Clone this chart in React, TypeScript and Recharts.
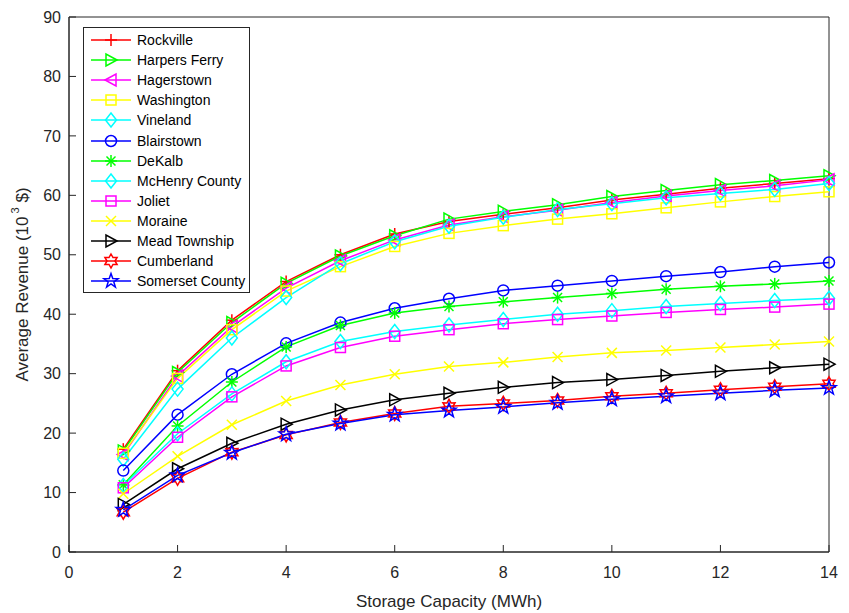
import * as React from "react";
import { LineChart, Line, XAxis, YAxis, Legend, ReferenceArea } from "recharts";

const font = "'Liberation Sans', Arial, Helvetica, sans-serif";
const axisColor = "#262626";

// storage capacity (MWh)
const capacity = [1, 2, 3, 4, 5, 6, 7, 8, 9, 10, 11, 12, 13, 14];

// average revenue, 10^3 $
const rockville = [17.3, 30.5, 39.0, 45.5, 50.0, 53.5, 55.6, 56.8, 57.9, 59.2, 60.2, 61.2, 62.0, 62.8];
const harpersFerry = [17.0, 30.2, 38.6, 45.2, 49.8, 53.2, 56.0, 57.3, 58.4, 59.8, 60.8, 61.8, 62.5, 63.3];
const hagerstown = [16.4, 29.6, 37.9, 44.4, 49.0, 52.5, 55.0, 56.4, 57.5, 58.8, 59.9, 60.8, 61.6, 62.6];
const washington = [16.6, 29.2, 37.4, 43.9, 48.0, 51.4, 53.6, 54.9, 56.0, 56.9, 57.9, 58.9, 59.8, 60.6];
const vineland = [15.6, 27.4, 36.0, 42.8, 48.5, 52.2, 54.8, 56.3, 57.6, 58.6, 59.6, 60.3, 61.0, 62.0];
const blairstown = [13.7, 23.1, 29.9, 35.1, 38.6, 41.0, 42.6, 44.0, 44.8, 45.6, 46.4, 47.1, 48.0, 48.7];
const deKalb = [11.3, 21.2, 28.6, 34.5, 38.1, 40.2, 41.3, 42.1, 42.8, 43.5, 44.2, 44.7, 45.1, 45.6];
const mcHenry = [11.2, 19.9, 26.6, 32.0, 35.4, 37.1, 38.2, 39.1, 40.0, 40.6, 41.3, 41.8, 42.3, 42.7];
const joliet = [10.8, 19.3, 26.1, 31.3, 34.4, 36.3, 37.4, 38.4, 39.1, 39.7, 40.3, 40.8, 41.2, 41.7];
const moraine = [9.8, 16.1, 21.4, 25.4, 28.1, 29.9, 31.2, 31.9, 32.8, 33.5, 33.9, 34.4, 34.9, 35.4];
const meadTownship = [8.0, 14.0, 18.3, 21.5, 23.9, 25.6, 26.7, 27.7, 28.5, 29.0, 29.7, 30.4, 31.0, 31.6];
const cumberland = [6.7, 12.4, 16.8, 19.7, 21.8, 23.3, 24.5, 25.0, 25.5, 26.2, 26.7, 27.3, 27.8, 28.3];
const somerset = [7.1, 12.9, 16.7, 19.8, 21.6, 23.1, 23.8, 24.4, 25.1, 25.7, 26.2, 26.7, 27.2, 27.6];

const xTicks = [0, 2, 4, 6, 8, 10, 12, 14];
const yTicks = [0, 10, 20, 30, 40, 50, 60, 70, 80, 90];

type Shape = "plus" | "triRight" | "triLeft" | "square" | "diamond" | "circle" | "asterisk" | "cross" | "hexagram" | "pentagram";

class SeriesDef {
    name: string;
    color: string;
    shape: Shape;
    values: number[];
}

const series: SeriesDef[] = [
    { name: "Rockville", color: "#ff0000", shape: "plus", values: rockville },
    { name: "Harpers Ferry", color: "#00ff00", shape: "triRight", values: harpersFerry },
    { name: "Hagerstown", color: "#ff00ff", shape: "triLeft", values: hagerstown },
    { name: "Washington", color: "#ffff00", shape: "square", values: washington },
    { name: "Vineland", color: "#00ffff", shape: "diamond", values: vineland },
    { name: "Blairstown", color: "#0000ff", shape: "circle", values: blairstown },
    { name: "DeKalb", color: "#00ff00", shape: "asterisk", values: deKalb },
    { name: "McHenry County", color: "#00ffff", shape: "diamond", values: mcHenry },
    { name: "Joliet", color: "#ff00ff", shape: "square", values: joliet },
    { name: "Moraine", color: "#ffff00", shape: "cross", values: moraine },
    { name: "Mead Township", color: "#000000", shape: "triRight", values: meadTownship },
    { name: "Cumberland", color: "#ff0000", shape: "hexagram", values: cumberland },
    { name: "Somerset County", color: "#0000ff", shape: "pentagram", values: somerset },
];

const data = capacity.map((c, i) => {
    const row: any = { capacity: c };
    series.forEach(s => { row[s.name] = s.values[i]; });
    return row;
});

const starPoints = (cx: number, cy: number, n: number, rOut: number, rIn: number) => {
    const pts: string[] = [];
    for (let k = 0; k < n * 2; k++) {
        const r = k % 2 === 0 ? rOut : rIn;
        const a = -Math.PI / 2 + (k * Math.PI) / n;
        pts.push(`${cx + r * Math.cos(a)},${cy + r * Math.sin(a)}`);
    }
    return pts.join(" ");
};

const Marker = (props: { cx: number; cy: number; shape: Shape; color: string }) => {
    const { cx, cy, shape, color } = props;
    const p = { fill: "none", stroke: color, strokeWidth: 1.5 };
    switch (shape) {
        case "plus":
            return <g {...p}><line x1={cx - 6} y1={cy} x2={cx + 6} y2={cy} /><line x1={cx} y1={cy - 6} x2={cx} y2={cy + 6} /></g>;
        case "triRight":
            return <polygon {...p} points={`${cx + 6},${cy} ${cx - 5},${cy - 6} ${cx - 5},${cy + 6}`} />;
        case "triLeft":
            return <polygon {...p} points={`${cx - 6},${cy} ${cx + 5},${cy - 6} ${cx + 5},${cy + 6}`} />;
        case "square":
            return <rect {...p} x={cx - 5} y={cy - 5} width={10} height={10} />;
        case "diamond":
            return <polygon {...p} points={`${cx},${cy - 7} ${cx + 5.5},${cy} ${cx},${cy + 7} ${cx - 5.5},${cy}`} />;
        case "circle":
            return <circle {...p} cx={cx} cy={cy} r={5.5} />;
        case "asterisk":
            return <g {...p}>
                <line x1={cx - 6} y1={cy} x2={cx + 6} y2={cy} />
                <line x1={cx} y1={cy - 6} x2={cx} y2={cy + 6} />
                <line x1={cx - 4.5} y1={cy - 4.5} x2={cx + 4.5} y2={cy + 4.5} />
                <line x1={cx - 4.5} y1={cy + 4.5} x2={cx + 4.5} y2={cy - 4.5} />
            </g>;
        case "cross":
            return <g {...p}><line x1={cx - 5} y1={cy - 5} x2={cx + 5} y2={cy + 5} /><line x1={cx - 5} y1={cy + 5} x2={cx + 5} y2={cy - 5} /></g>;
        case "hexagram":
            return <polygon {...p} points={starPoints(cx, cy, 6, 7, 4)} />;
        case "pentagram":
            return <polygon {...p} points={starPoints(cx, cy, 5, 7.5, 3)} />;
    }
    return null;
};

const LegendBox = () => (
    <div style={{
        boxSizing: "border-box", width: 167, border: "1px solid #262626", background: "#fff",
        padding: "2px 4px 1px 6px", fontFamily: font, fontSize: 14, color: "#000",
    }}>
        {series.map(s => (
            <div key={s.name} style={{ display: "flex", alignItems: "center", height: 20.1 }}>
                <svg width={42} height={20} style={{ flex: "none" }}>
                    <line x1={1} y1={10} x2={41} y2={10} stroke={s.color} strokeWidth={1.5} />
                    <Marker cx={21} cy={10} shape={s.shape} color={s.color} />
                </svg>
                <span style={{ marginLeft: 5, whiteSpace: "nowrap" }}>{s.name}</span>
            </div>
        ))}
    </div>
);

const YLabel = (props: any) => {
    const vb = props.viewBox;
    const x = vb.x + 13;
    const y = vb.y + vb.height / 2;
    return <text x={x} y={y} transform={`rotate(-90, ${x}, ${y})`} textAnchor="middle" dominantBaseline="central"
        fontFamily={font} fontSize={17} fill={axisColor}>
        Average Revenue (10<tspan fontSize={11} dy={-7}> 3</tspan><tspan fontSize={17} dy={7}> $)</tspan>
    </text>;
};

const XLabel = (props: any) => {
    const vb = props.viewBox;
    return <text x={vb.x + vb.width / 2} y={vb.y + 49} textAnchor="middle" dominantBaseline="central"
        fontFamily={font} fontSize={17} fill={axisColor}>Storage Capacity (MWh)</text>;
};

const tickStyle = { fill: axisColor, fontSize: 16, fontFamily: font };
const lineStyle = { stroke: axisColor, strokeWidth: 1 };

const App = () => {
    return <LineChart width={841} height={605} data={data} margin={{ top: 9, right: 20, bottom: 11, left: 1 }}>
        <XAxis dataKey="capacity" type="number" domain={[0, 14]} ticks={xTicks} interval={0}
            height={50} tickSize={-7} tickMargin={22} tick={tickStyle} axisLine={lineStyle} tickLine={lineStyle}
            label={{ content: XLabel }} />
        <XAxis xAxisId="top" orientation="top" type="number" domain={[0, 14]} ticks={xTicks} interval={0}
            height={0} tickSize={-7} tick={false} axisLine={lineStyle} tickLine={lineStyle} />
        <YAxis type="number" domain={[0, 90]} ticks={yTicks} interval={0}
            width={60} tickSize={-7} tickMargin={15} tick={tickStyle} axisLine={lineStyle} tickLine={lineStyle}
            label={{ content: YLabel }} />
        <YAxis yAxisId="right" orientation="right" type="number" domain={[0, 90]} ticks={yTicks} interval={0}
            width={0} tickSize={-7} tick={false} axisLine={lineStyle} tickLine={lineStyle} />
        <ReferenceArea x1={0} x2={14} y1={0} y2={90} fill="none" stroke={axisColor} strokeWidth={1} />
        {series.map(s => (
            <Line key={s.name} type="linear" dataKey={s.name} stroke={s.color} strokeWidth={1.5}
                isAnimationActive={false} activeDot={false}
                dot={(d: any) => <Marker key={`${s.name}-${d.index}`} cx={d.cx} cy={d.cy} shape={s.shape} color={s.color} />} />
        ))}
        <Legend layout="vertical" align="center" verticalAlign="middle" content={<LegendBox />}
            wrapperStyle={{ left: 75, top: 19, width: 167 }} />
    </LineChart>;
};

export default App;
